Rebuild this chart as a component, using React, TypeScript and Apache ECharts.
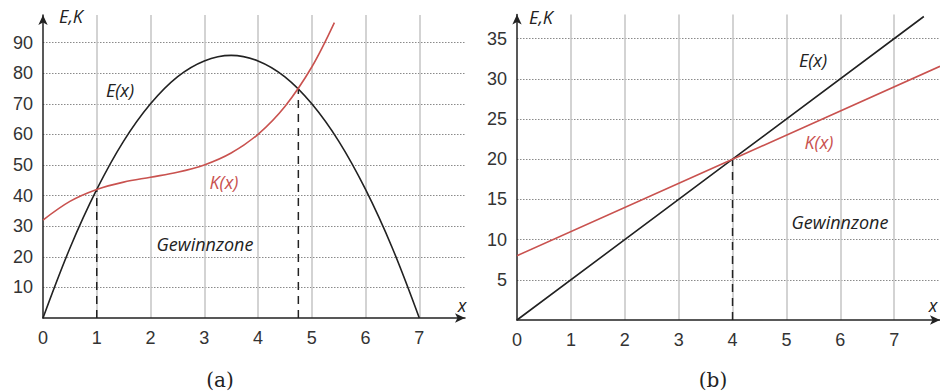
import React, { useEffect, useRef } from "react";
import * as echarts from "echarts";

// Chart (a): revenue E(x) and cost K(x)
const aX_E = [0, 0.5, 1, 1.5, 2, 2.5, 3, 3.5, 4, 4.5, 5, 5.5, 6, 6.5, 7];
const aE = [0, 22.8, 42, 57.8, 70, 78.8, 84, 85.8, 84, 78.8, 70, 57.8, 42, 22.8, 0];
const aX_K = [0, 0.5, 1, 1.5, 2, 2.5, 3, 3.5, 4, 4.5, 5, 5.42];
const aK = [32, 38.1, 42, 44.4, 46, 47.6, 50, 53.9, 60, 69.1, 82, 96.5];
const aBreakX = [1, 4.75];
const aBreakY = [42, 75];

// Chart (b): linear E(x) and K(x)
const bX_E = [0, 4, 7.55];
const bE = [0, 20, 37.75];
const bX_K = [0, 4, 7.85];
const bK = [8, 20, 31.55];
const bBreakX = [4];
const bBreakY = [20];

const xTicks = ["0", "1", "2", "3", "4", "5", "6", "7"];

const DARK = "#222";
const TICK = "#333";
const RED = "#c9524f";
const LABEL_FONT = "Liberation Sans, Arial, sans-serif";
const ITALIC_FONT = "Open Sans, sans-serif";

const zip = (xs: number[], ys: number[]) => xs.map((x, i) => [x, ys[i]]);

export default function App() {
  const ref = useRef<HTMLDivElement>(null);
  useEffect(() => {
    if (!ref.current) return;
    const chart = echarts.init(ref.current, undefined, { renderer: "svg" });

    const mkX = (gridIndex: number, max: number) => ({
      type: "value",
      gridIndex,
      min: 0,
      max,
      interval: 1,
      axisLine: {
        show: true,
        onZero: false,
        symbol: ["none", "arrow"],
        symbolSize: [7, 10],
        lineStyle: { color: DARK, width: 1.5 },
      },
      axisTick: { show: false },
      axisLabel: {
        color: TICK,
        fontSize: 18,
        fontFamily: LABEL_FONT,
        margin: 11,
        showMaxLabel: false,
        formatter: (v: number) => (Number.isInteger(v) && v <= 7 ? xTicks[v] : ""),
      },
      splitLine: {
        show: true,
        showMinLine: false,
        showMaxLine: false,
        lineStyle: { color: "#c4c4c4", width: 1.5, type: "solid" },
      },
    });
    const mkY = (gridIndex: number, max: number, interval: number) => ({
      type: "value",
      gridIndex,
      min: 0,
      max,
      interval,
      axisLine: {
        show: true,
        onZero: false,
        symbol: ["none", "arrow"],
        symbolSize: [7, 10],
        lineStyle: { color: DARK, width: 1.5 },
      },
      axisTick: { show: false },
      axisLabel: {
        color: TICK,
        fontSize: 18,
        fontFamily: LABEL_FONT,
        margin: 10,
        showMaxLabel: false,
        formatter: (v: number) => (v === 0 || v % interval !== 0 ? "" : String(v)),
      },
      splitLine: {
        show: true,
        showMinLine: false,
        showMaxLine: false,
        lineStyle: { color: "#8a8a8a", width: 1, type: [1.5, 1.5] },
      },
    });

    const curve = (xi: number, xs: number[], ys: number[], color: string, smooth: boolean) => ({
      type: "line",
      xAxisIndex: xi,
      yAxisIndex: xi,
      data: zip(xs, ys),
      smooth: smooth ? 0.35 : false,
      showSymbol: false,
      symbol: "none",
      clip: true,
      lineStyle: { color, width: 1.6 },
      z: 5,
    });
    const dashes = (xi: number, xs: number[], ys: number[]) =>
      xs.map((x, i) => ({
        type: "line",
        xAxisIndex: xi,
        yAxisIndex: xi,
        data: [
          [x, 0],
          [x, ys[i]],
        ],
        showSymbol: false,
        symbol: "none",
        lineStyle: { color: DARK, width: 1.5, type: [8, 6] },
        z: 4,
      }));

    const txt = (x: number, y: number, text: string, fill = DARK, size = 18, italic = true, family = ITALIC_FONT) => ({
      type: "text",
      x,
      y,
      style: {
        text,
        fill,
        font: `${italic ? "italic " : ""}${size}px ${family}`,
        align: "center",
        verticalAlign: "middle",
      },
      z: 10,
    });

    chart.setOption({
      animation: false,
      backgroundColor: "#fff",
      grid: [
        { left: 43, top: 15, width: 422, height: 303 },
        { left: 517, top: 14.5, width: 425, height: 305.5 },
      ],
      xAxis: [mkX(0, 7.85), mkX(1, 7.85)],
      yAxis: [mkY(0, 99, 10), mkY(1, 38, 5)],
      series: [
        curve(0, aX_E, aE, DARK, true),
        curve(0, aX_K, aK, RED, true),
        ...dashes(0, aBreakX, aBreakY),
        curve(1, bX_E, bE, DARK, false),
        curve(1, bX_K, bK, RED, false),
        ...dashes(1, bBreakX, bBreakY),
      ],
      graphic: [
        txt(71, 16, "E,K"),
        txt(120, 90, "E(x)"),
        txt(224, 182, "K(x)", RED),
        txt(205, 244, "Gewinnzone"),
        txt(462, 305, "x"),
        txt(541, 17, "E,K"),
        txt(813, 60, "E(x)"),
        txt(819, 142, "K(x)", RED),
        txt(840, 222, "Gewinnzone"),
        txt(933, 305, "x"),
        txt(220, 380, "(a)", DARK, 20, false, "DejaVu Serif, serif"),
        txt(713, 380, "(b)", DARK, 20, false, "DejaVu Serif, serif"),
      ],
    });
    return () => chart.dispose();
  }, []);

  return <div ref={ref} style={{ width: 940, height: 392, position: "absolute", left: 0, top: 0 }} />;
}
